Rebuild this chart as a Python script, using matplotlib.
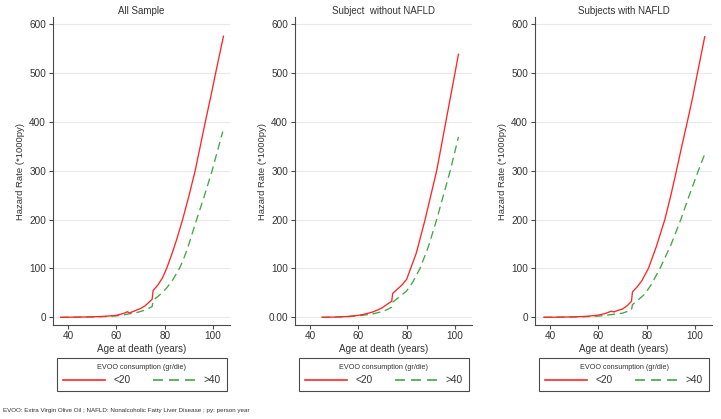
import matplotlib
matplotlib.use("Agg")
import matplotlib.pyplot as plt
from matplotlib.lines import Line2D

plt.rcParams['font.family'] = ['Liberation Sans', 'DejaVu Sans']

titles = ["All Sample", "Subject  without NAFLD", "Subjects with NAFLD"]

# Panel 1: All Sample
age_low_1 = [37, 45, 50, 55, 60, 63, 64.6, 65.4, 68, 70, 72, 74.8, 75.2, 77, 79, 80.8, 83, 85, 87.4, 90, 92.6, 94.7, 96.8, 99.2, 101.5, 104.3]
haz_low_1 = [0, 0.5, 1, 2, 4, 8, 11.5, 9, 14, 18, 24, 37, 55, 65, 80, 100, 130, 160, 200, 248, 300, 350, 400, 455, 510, 575]
age_high_1 = [37, 45, 50, 55, 60, 64, 65, 68, 70, 72, 74.8, 75.2, 77, 79, 80.8, 83.5, 86.1, 88, 89.5, 93.2, 96.5, 99.6, 104]
haz_high_1 = [0, 0.3, 0.7, 1.5, 3, 6, 7, 9, 12, 15, 22, 35, 42, 50.5, 60, 78, 100, 122, 142, 200, 250, 300, 380]

# Panel 2: without NAFLD
age_low_2 = [45, 50, 55, 60, 63, 66, 68, 70, 72, 73.8, 74.2, 76, 78, 80, 81.4, 84, 87.6, 90, 92.4, 94.3, 96.1, 98, 99.6, 101.4]
haz_low_2 = [0, 0.5, 1.5, 4, 7, 11, 15, 20, 27, 33, 49, 57, 66, 78, 97, 132, 200, 250, 300, 350, 398, 448, 490, 538]
age_high_2 = [45, 50, 55, 60, 63, 66, 68, 70, 72, 73.8, 74.2, 77, 80, 82.5, 85.5, 89, 92.4, 95.2, 98, 101.4]
haz_high_2 = [0, 0.3, 1, 3, 5, 7, 9.5, 12, 16, 21, 31, 42, 54, 72, 100, 145, 200, 250, 300, 369]

# Panel 3: with NAFLD
age_low_3 = [37.5, 45, 50, 55, 60, 63, 65.3, 66.5, 68, 70, 72, 73.7, 74.1, 76, 78, 80.7, 84, 87.5, 90, 92.3, 94.5, 96.8, 99, 101, 104]
haz_low_3 = [0, 0.5, 1, 2, 4.5, 8, 12.5, 11, 14, 17, 24, 33, 52, 62, 75, 100, 145, 200, 250, 300, 350, 400, 450, 500, 574]
age_high_3 = [37.5, 45, 50, 55, 60, 63, 66, 70, 72, 73.7, 74.1, 77, 79.3, 82, 85.5, 90, 94.1, 97.5, 101.2, 104]
haz_high_3 = [0, 0.3, 0.7, 1.3, 2.5, 4, 6, 8.5, 12, 15, 26, 38, 48, 68, 100, 148, 200, 248, 298, 334]

panels = [
    (age_low_1, haz_low_1, age_high_1, haz_high_1),
    (age_low_2, haz_low_2, age_high_2, haz_high_2),
    (age_low_3, haz_low_3, age_high_3, haz_high_3),
]

x_ticks = [40, 60, 80, 100]
y_ticks = [0, 100, 200, 300, 400, 500, 600]
y_labels = [["0", "100", "200", "300", "400", "500", "600"],
            ["0.00", "100", "200", "300", "400", "500", "600"],
            ["0", "100", "200", "300", "400", "500", "600"]]

legend_title = "EVOO consumption (gr/die)"
series_labels = ["<20", ">40"]
footnote = "EVOO: Extra Virgin Olive Oil ; NAFLD: Nonalcoholic Fatty Liver Disease ; py: person year"

RED = "#ff2626"
GREEN = "#44a544"
AXC = "#4a4a4a"
TXT = "#333333"

W, H = 721, 419
fig = plt.figure(figsize=(W / 100, H / 100), dpi=100)
fig.patch.set_facecolor("white")

lefts = [53, 295, 535]
top_px, bot_px = 17, 325
width_px = 177

for i, (al, hl, ah, hh) in enumerate(panels):
    ax = fig.add_axes([lefts[i] / W, (H - bot_px) / H, width_px / W, (bot_px - top_px) / H])
    ax.set_xlim(33.8, 107.0)
    ax.set_ylim(-15.7, 614.3)
    for yv in y_ticks:
        ax.axhline(yv, color="#e9e9e9", lw=0.8, zorder=0)
    ax.plot(al, hl, color=RED, lw=0.95, zorder=3)
    ax.plot(ah, hh, color=GREEN, lw=0.95, linestyle=(0, (6, 3.6)), zorder=2)
    for s in ["top", "right"]:
        ax.spines[s].set_visible(False)
    for s in ["left", "bottom"]:
        ax.spines[s].set_color(AXC)
        ax.spines[s].set_linewidth(0.8)
    ax.set_xticks(x_ticks)
    ax.set_yticks(y_ticks)
    ax.set_yticklabels(y_labels[i])
    ax.tick_params(axis="both", direction="out", length=3, width=0.8, color=AXC,
                   labelsize=7.2, labelcolor=TXT, pad=2)
    ax.tick_params(axis="x", pad=1.5)
    ax.set_title(titles[i], fontsize=7.0, color=TXT, pad=2)
    ax.text(-0.186, 0.5, "Hazard Rate (*1000py)", rotation=90, transform=ax.transAxes,
            ha="center", va="center", fontsize=6.8, color=TXT)
    ax.text(0.5, -(348.5 - bot_px) / (bot_px - top_px), "Age at death (years)",
            transform=ax.transAxes, ha="center", va="center", fontsize=7.1, color=TXT)
    handles = [Line2D([], [], color=RED, lw=1.2),
               Line2D([], [], color=GREEN, lw=1.2, linestyle=(0, (6, 3.6)))]
    bx0 = 4 / width_px
    bw = 170 / width_px
    by_top = -(358 - bot_px) / (bot_px - top_px)
    leg = ax.legend(handles, series_labels, title=legend_title, ncol=2,
                    loc="upper left", bbox_to_anchor=(bx0, by_top, bw, 0.0001),
                    mode="expand", fontsize=7.3, title_fontsize=5.2,
                    handlelength=4.2, handletextpad=0.8, borderpad=0.58,
                    labelspacing=0.45, borderaxespad=0, fancybox=False,
                    frameon=True, edgecolor=AXC, framealpha=1)
    leg.get_frame().set_linewidth(0.8)
    leg.get_title().set_color(TXT)
    for t in leg.get_texts():
        t.set_color(TXT)

fig.text(3 / W, 1 - 410 / H, footnote, fontsize=4.5, color=TXT, ha="left", va="center")

fig.savefig("out.png", dpi=100, facecolor="white")
